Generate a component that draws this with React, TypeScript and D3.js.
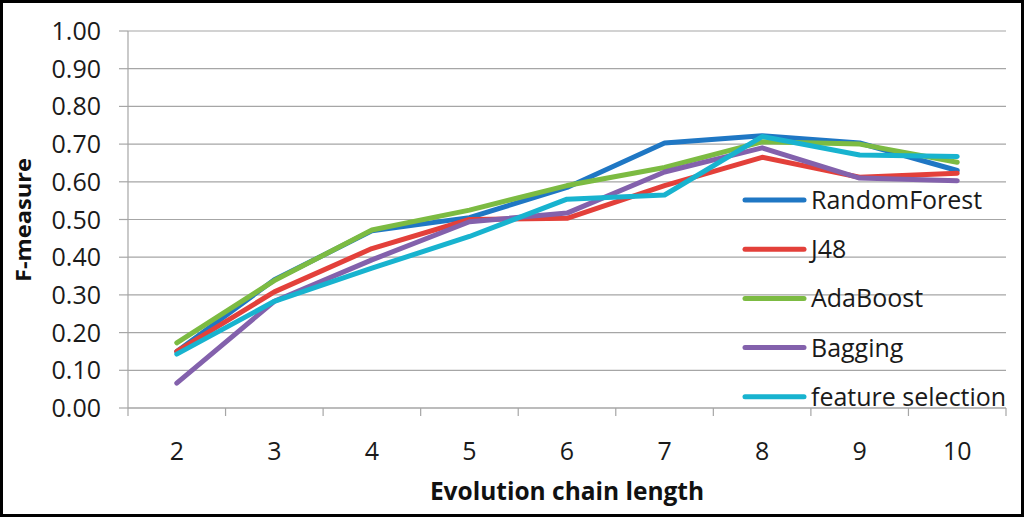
import React from "react";
import * as d3 from "d3";

const categories = ["2", "3", "4", "5", "6", "7", "8", "9", "10"];
const seriesNames = ["RandomForest", "J48", "AdaBoost", "Bagging", "feature selection"];
const randomForest = [0.15, 0.34, 0.47, 0.505, 0.585, 0.703, 0.722, 0.703, 0.63];
const j48 = [0.15, 0.308, 0.423, 0.5, 0.503, 0.59, 0.665, 0.612, 0.623];
const adaBoost = [0.173, 0.338, 0.472, 0.525, 0.59, 0.638, 0.706, 0.7, 0.652];
const bagging = [0.066, 0.283, 0.393, 0.494, 0.517, 0.626, 0.69, 0.61, 0.603];
const featureSelection = [0.143, 0.283, 0.371, 0.455, 0.554, 0.565, 0.72, 0.671, 0.667];
const seriesColors = ["#1F77C4", "#E3403A", "#7CBB42", "#8361AC", "#18B3CF"];
const yTicks = [0, 0.1, 0.2, 0.3, 0.4, 0.5, 0.6, 0.7, 0.8, 0.9, 1.0];

const allSeries = [randomForest, j48, adaBoost, bagging, featureSelection];

export default function App() {
  const W = 1024, H = 517;
  const left = 128, right = 1006, top = 31, bottom = 408;
  const x = d3.scaleBand<string>().domain(categories).range([left, right]);
  const y = d3.scaleLinear().domain([0, 1]).range([bottom, top]);
  const cx = (c: string) => (x(c) as number) + x.bandwidth() / 2;
  const line = d3
    .line<number>()
    .x((_, i) => cx(categories[i]))
    .y((d) => y(d));
  const font = "'Open Sans', sans-serif";
  const legendX1 = 745, legendX2 = 804, legendY0 = 200, legendStep = 49.2;
  const boundaries = [...categories.map((c) => x(c) as number), right];

  return (
    <svg
      width={W}
      height={H}
      style={{ position: "absolute", left: 0, top: 0, background: "#fff" }}
    >
      <rect x={0} y={0} width={W} height={H} fill="#fff" />
      {yTicks.map((t) => (
        <g key={t}>
          <line x1={left} x2={right} y1={y(t)} y2={y(t)} stroke="#A6A6A6" strokeWidth={1.2} />
          <line x1={left - 9} x2={left} y1={y(t)} y2={y(t)} stroke="#A6A6A6" strokeWidth={1.2} />
          <text
            x={101}
            y={y(t)}
            dy="0.36em"
            textAnchor="end"
            fontFamily={font}
            fontSize={25}
            fill="#1a1a1a"
          >
            {t.toFixed(2)}
          </text>
        </g>
      ))}
      <line x1={left} x2={left} y1={top} y2={bottom} stroke="#A6A6A6" strokeWidth={1.2} />
      <line x1={left} x2={right} y1={bottom} y2={bottom} stroke="#A6A6A6" strokeWidth={1.2} />
      {boundaries.map((b, i) => (
        <line key={i} x1={b} x2={b} y1={bottom} y2={bottom + 8} stroke="#A6A6A6" strokeWidth={1.2} />
      ))}
      {categories.map((c) => (
        <text
          key={c}
          x={cx(c)}
          y={451}
          dy="0.36em"
          textAnchor="middle"
          fontFamily={font}
          fontSize={25}
          fill="#1a1a1a"
        >
          {c}
        </text>
      ))}
      {allSeries.map((s, i) => (
        <path
          key={i}
          d={line(s) as string}
          fill="none"
          stroke={seriesColors[i]}
          strokeWidth={5}
          strokeLinejoin="round"
          strokeLinecap="round"
        />
      ))}
      {seriesNames.map((n, i) => (
        <g key={n}>
          <line
            x1={legendX1}
            x2={legendX2}
            y1={legendY0 + i * legendStep}
            y2={legendY0 + i * legendStep}
            stroke={seriesColors[i]}
            strokeWidth={5}
            strokeLinecap="round"
          />
          <text
            x={811}
            y={legendY0 + i * legendStep}
            dy="0.36em"
            fontFamily={font}
            fontSize={25}
            fill="#1a1a1a"
          >
            {n}
          </text>
        </g>
      ))}
      <text
        x={567}
        y={500}
        textAnchor="middle"
        fontFamily={font}
        fontWeight="bold"
        fontSize={24.5}
        fill="#111"
      >
        Evolution chain length
      </text>
      <text
        transform={`translate(31,220) rotate(-90)`}
        textAnchor="middle"
        fontFamily={font}
        fontWeight="bold"
        fontSize={21}
        textLength={124}
        lengthAdjust="spacingAndGlyphs"
        fill="#111"
      >
        F-measure
      </text>
      <rect x={1.5} y={1.5} width={W - 3} height={H - 3} fill="none" stroke="#000" strokeWidth={3} />
    </svg>
  );
}
